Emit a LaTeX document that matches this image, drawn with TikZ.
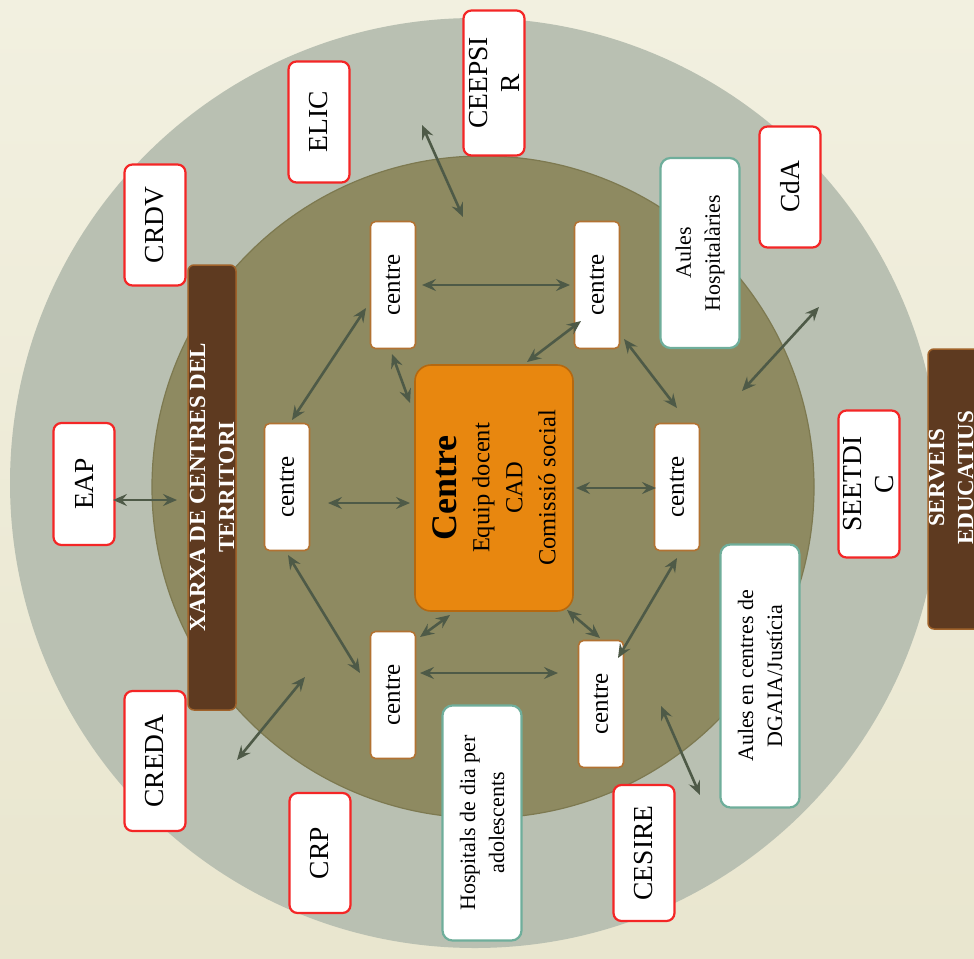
\documentclass[tikz,border=0pt]{standalone}
\usepackage{fontspec}
\setmainfont{Liberation Serif}
\usetikzlibrary{arrows.meta}
\definecolor{bgA}{HTML}{F2F0E0}
\definecolor{bgB}{HTML}{E9E6CF}
\definecolor{outerc}{HTML}{B9C0B2}
\definecolor{innerc}{HTML}{8E8A61}
\definecolor{innerd}{HTML}{7D7950}
\definecolor{centc}{HTML}{E8870F}
\definecolor{centd}{HTML}{B5680F}
\definecolor{cbord}{HTML}{B27232}
\definecolor{barc}{HTML}{5E3A20}
\definecolor{bard}{HTML}{A0622A}
\definecolor{redb}{HTML}{F42626}
\definecolor{tealb}{HTML}{6FAE9B}
\definecolor{arrc}{HTML}{4E5A47}
\tikzset{
  cbox/.style={draw=cbord, line width=1.6pt, fill=white, rounded corners=5pt, rotate=90,
    minimum width=127pt, minimum height=45pt, inner sep=1pt, font=\fontsize{25}{28}\selectfont},
  rbox/.style={draw=redb, line width=2.2pt, fill=white, rounded corners=8pt, rotate=90,
    minimum height=61pt, inner sep=1pt, align=center, font=\fontsize{27.5}{32}\selectfont},
  tbox/.style={draw=tealb, line width=2.2pt, fill=white, rounded corners=10pt, rotate=90,
    minimum height=79pt, inner sep=1pt, align=center, font=\fontsize{22}{29}\selectfont},
  barbox/.style={draw=bard, line width=1.5pt, fill=barc, rounded corners=6pt},
  bartext/.style={rotate=90, align=center, text=white, font=\bfseries\fontsize{23}{29}\selectfont},
  arr/.style={draw=arrc, line width=2.6pt, {Stealth[length=14pt,width=12pt,inset=5pt]}-{Stealth[length=14pt,width=12pt,inset=5pt]}},
}
\begin{document}
\begin{tikzpicture}[x=1pt,y=-1pt]
\useasboundingbox (0,0) rectangle (974,958);
\clip (0,0) rectangle (974,958);
\shade[top color=bgA, bottom color=bgB] (0,0) rectangle (974,958);
% circles
\fill[outerc] (475,483) circle[radius=465];
\draw[innerd, line width=1.2pt, fill=innerc] (483,487) circle[radius=331];
% bars
\draw[barbox] (188,265) rectangle (236,710);
\node[bartext] (xarxa) at (212,487) {XARXA DE CENTRES DEL\\TERRITORI};
\draw[barbox] (928,349) rectangle (1010,629);
\node[bartext] (serveis) at (951,478) {SERVEIS\\EDUCATIUS};
% central box
\node[draw=centd, line width=1.6pt, fill=centc, rounded corners=16pt, rotate=90,
  minimum width=246pt, minimum height=158pt, align=center,
  font=\fontsize{24.5}{33}\selectfont] (C) at (494,488)
  {{\bfseries\fontsize{36}{36}\selectfont Centre}\\Equip docent\\CAD\\Comissió social};
% centre nodes
\node[cbox] (tl) at (393,285) {centre};
\node[cbox] (tr) at (597,285) {centre};
\node[cbox] (ml) at (287,487) {centre};
\node[cbox] (mr) at (677,487) {centre};
\node[cbox] (bl) at (393,695) {centre};
\node[cbox] (br) at (601,704) {centre};
% red boxes
\node[rbox, minimum width=145pt] (ceepsir) at (494,83) {CEEPSI\\R};
\node[rbox, minimum width=121pt] (elic) at (319,122) {ELIC};
\node[rbox, minimum width=121pt] (crdv) at (155,225) {CRDV};
\node[rbox, minimum width=122pt] (eap) at (84,484) {EAP};
\node[rbox, minimum width=140pt] (creda) at (155,761) {CREDA};
\node[rbox, minimum width=120pt] (crp) at (320,853) {CRP};
\node[rbox, minimum width=136pt] (cesire) at (644,853) {CESIRE};
\node[rbox, minimum width=147pt] (seetdic) at (869,484) {SEETDI\\C};
\node[rbox, minimum width=121pt] (cda) at (790,187) {CdA};
% teal boxes
\node[tbox, minimum width=190pt] (ah) at (700,253) {Aules\\Hospitalàries};
\node[tbox, minimum width=263pt] (dgaia) at (760,676) {Aules en centres de\\DGAIA/Justícia};
\node[tbox, minimum width=235pt] (hd) at (482,823) {Hospitals de dia per\\adolescents};
% arrow end points
\coordinate (a1) at (422,285); \coordinate (b1) at (570,285);
\coordinate (a2) at (366,308); \coordinate (b2) at (292,420);
\coordinate (a3) at (392,354); \coordinate (b3) at (410,403);
\coordinate (a4) at (581,321); \coordinate (b4) at (527,362);
\coordinate (a5) at (624,339); \coordinate (b5) at (677,408);
\coordinate (a6) at (576,488); \coordinate (b6) at (656,488);
\coordinate (a7) at (328,503); \coordinate (b7) at (410,503);
\coordinate (a8) at (288,555); \coordinate (b8) at (360,673);
\coordinate (a9) at (420,637); \coordinate (b9) at (450,615);
\coordinate (a10) at (420,673); \coordinate (b10) at (558,673);
\coordinate (a11) at (567,610); \coordinate (b11) at (600,638);
\coordinate (a12) at (677,558); \coordinate (b12) at (618,658);
\coordinate (a13) at (113,500); \coordinate (b13) at (177,500);
\coordinate (a14) at (422,125); \coordinate (b14) at (463,217);
\coordinate (a15) at (819,307); \coordinate (b15) at (742,391);
\coordinate (a16) at (305,677); \coordinate (b16) at (237,760);
\coordinate (a17) at (661,706); \coordinate (b17) at (700,795);
\foreach \i in {1,...,17} { \draw[arr] (a\i) -- (b\i); }
\end{tikzpicture}
\end{document}
